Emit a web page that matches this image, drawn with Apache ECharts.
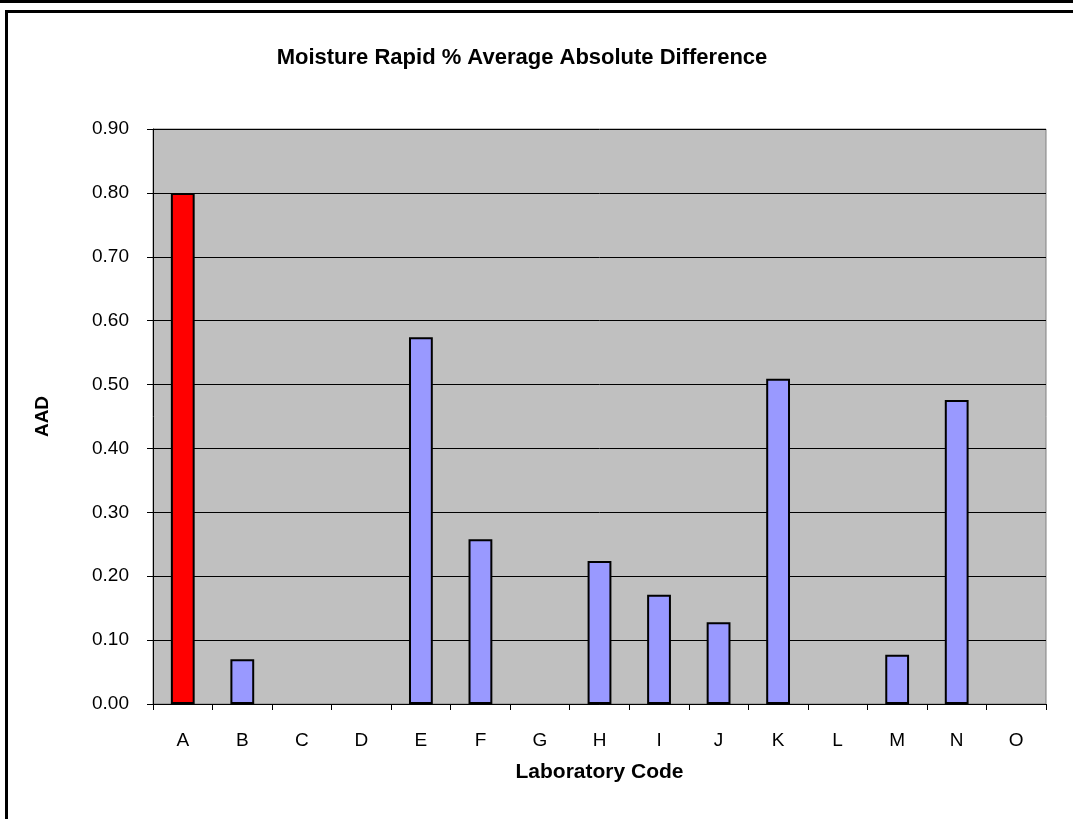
<!DOCTYPE html>
<html>
<head>
<meta charset="utf-8">
<script src="https://cdn.jsdelivr.net/npm/echarts@6/dist/echarts.min.js"></script>
<style>
  html, body { margin: 0; padding: 0; background: #fff; }
  #chart { width: 1073px; height: 819px; }
</style>
</head>
<body>
<div id="chart"></div>
<script>
// laboratory codes and their AAD values
const labs = ['A', 'B', 'C', 'D', 'E', 'F', 'G', 'H', 'I', 'J', 'K', 'L', 'M', 'N', 'O'];
const aad = [0.80, 0.07, 0, 0, 0.574, 0.258, 0, 0.224, 0.171, 0.128, 0.509, 0, 0.077, 0.476, 0];
const highlightLab = 'A';

const font = 'Arial, "Liberation Sans", sans-serif';

const chart = echarts.init(document.getElementById('chart'), null, {renderer: 'canvas'});

const option = {
  backgroundColor: '#fff',
  animation: false,
  title: {
    text: 'Moisture Rapid % Average Absolute Difference',
    left: 517,
    top: 42,
    textAlign: 'center',
    textStyle: {fontFamily: font, fontSize: 22, fontWeight: 'bold', color: '#000'}
  },
  grid: {
    left: 153,
    right: 27,
    top: 129,
    bottom: 115,
    show: true,
    backgroundColor: '#C0C0C0',
    borderColor: '#808080',
    borderWidth: 1
  },
  xAxis: {
    type: 'category',
    data: labs,
    name: 'Laboratory Code',
    nameLocation: 'middle',
    nameGap: 58,
    nameTextStyle: {fontFamily: font, fontSize: 21, fontWeight: 'bold', color: '#000'},
    axisLine: {lineStyle: {color: '#000', width: 1}},
    axisTick: {show: true, length: 6, lineStyle: {color: '#000'}},
    axisLabel: {fontFamily: font, fontSize: 19, color: '#000', margin: 27}
  },
  yAxis: {
    type: 'value',
    min: 0,
    max: 0.9,
    interval: 0.1,
    name: 'AAD',
    nameLocation: 'middle',
    nameGap: 101,
    nameRotate: 90,
    nameTextStyle: {fontFamily: font, fontSize: 19, fontWeight: 'bold', color: '#000'},
    axisLine: {show: true, lineStyle: {color: '#000', width: 1}},
    axisTick: {show: true, length: 6, lineStyle: {color: '#000'}},
    axisLabel: {fontFamily: font, fontSize: 19, color: '#000', margin: 24,
      formatter: v => v.toFixed(2)},
    splitLine: {show: true, lineStyle: {color: '#000', width: 1}}
  },
  series: [{
    type: 'bar',
    data: aad.map((v, i) => ({
      value: v,
      itemStyle: {
        color: labs[i] === highlightLab ? '#FF0000' : '#9999FF',
        borderWidth: v > 0 ? 2 : 0
      }
    })),
    barWidth: '40%',
    itemStyle: {borderColor: '#000', borderWidth: 2}
  }],
  graphic: [
    {type: 'line', shape: {x1: 0, y1: 1.5, x2: 1073, y2: 1.5},
      style: {stroke: '#000', lineWidth: 3}},
    {type: 'rect', shape: {x: 6.5, y: 11.5, width: 1200, height: 1000},
      style: {fill: null, stroke: '#000', lineWidth: 3}}
  ]
};

chart.setOption(option);
</script>
</body>
</html>
